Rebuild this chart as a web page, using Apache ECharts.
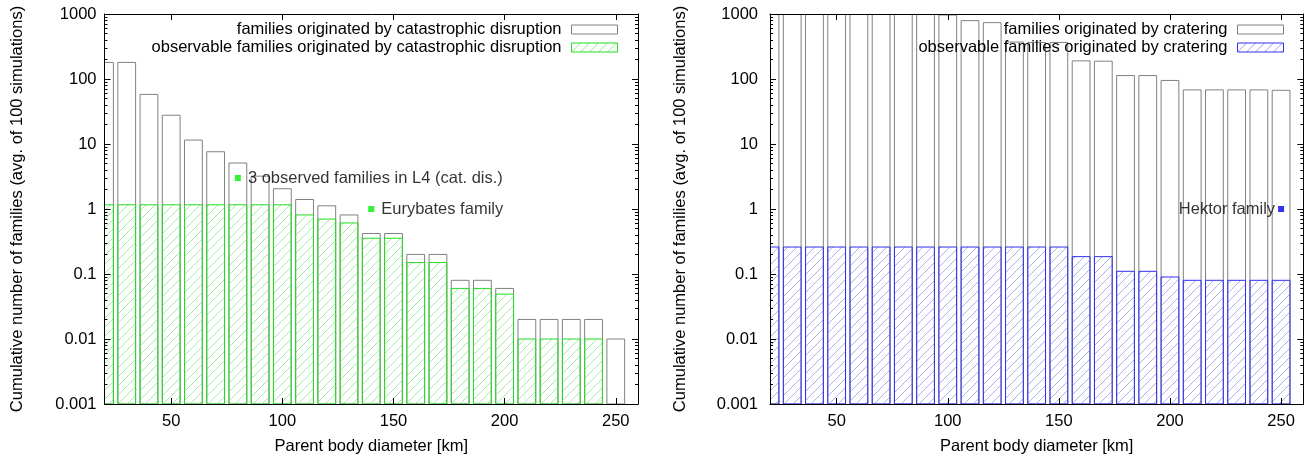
<!DOCTYPE html>
<html><head><meta charset="utf-8">
<script src="https://cdn.jsdelivr.net/npm/echarts@6/dist/echarts.min.js"></script>
<style>html,body{margin:0;padding:0;background:#fff}#c{width:1312px;height:460px}</style>
</head><body><div id="c"></div>
<script>
// ---------------- data ----------------
const DIAMETERS = [20,30,40,50,60,70,80,90,100,110,120,130,140,150,160,170,180,190,200,210,220,230,240,250];
// catastrophic disruption (left panel)
const CAT_ALL = [180,180,58,27.7,11.5,7.6,5.1,3.2,2.05,1.4,1.12,0.81,0.42,0.42,0.2,0.2,0.08,0.08,0.06,0.02,0.02,0.02,0.02,0.01];
const CAT_OBS = [1.16,1.16,1.16,1.16,1.16,1.16,1.16,1.16,1.16,0.81,0.70,0.61,0.355,0.355,0.15,0.15,0.06,0.06,0.049,0.01,0.01,0.01,0.01,null];
// cratering (right panel)
const CRAT_ALL = [4000,3500,2800,2300,1900,1600,1350,1150,965,790,736,370,365,365,190,188,113,113,95,68,68,68,68,67];
const CRAT_OBS = [0.26,0.26,0.26,0.26,0.26,0.26,0.26,0.26,0.26,0.26,0.26,0.26,0.26,0.26,0.185,0.185,0.11,0.11,0.09,0.08,0.08,0.08,0.08,0.08];
// observed families
const CAT_POINT_X = [80, 140];
const CAT_POINT_Y = [3, 1];
const CAT_POINT_NAMES = ['3 observed families in L4 (cat. dis.)', 'Eurybates family'];
const CRAT_POINT_X = [250];
const CRAT_POINT_Y = [1];
const CRAT_POINT_NAMES = ['Hektor family'];
// axes
const X_TICKS = [50,100,150,200,250];
const Y_MAJOR = [0.001,0.01,0.1,1,10,100,1000];
const Y_TICK_LABELS = ['0.001','0.01','0.1','1','10','100','1000'];
const Y_MINOR_MANTISSAS = [2,3,4,5,6,7,8,9];
const NAMES = {
  catAll: 'families originated by catastrophic disruption',
  catObs: 'observable families originated by catastrophic disruption',
  cratAll: 'families originated by cratering',
  cratObs: 'observable families originated by cratering'
};
const X_NAME = 'Parent body diameter [km]';
const Y_NAME = 'Cumulative number of families (avg. of 100 simulations)';

// ---------------- helpers ----------------
const X_MIN = 20, X_MAX = 260, Y_MIN = 0.001, Y_MAX = 1000;
const BAR_HALF = 4; // gnuplot box width 8 km
const HATCH_STEP = 9;
const FONT = "'Liberation Sans', Arial, Helvetica, sans-serif";
const Y_MINOR = [];
Y_MAJOR.slice(0, -1).forEach(d => Y_MINOR_MANTISSAS.forEach(m => Y_MINOR.push(+(d * m).toPrecision(3))));

function hatchPattern(color) {
  const s = HATCH_STEP, c = document.createElement('canvas');
  c.width = s; c.height = s;
  const g = c.getContext('2d');
  g.strokeStyle = color; g.lineWidth = 1;
  g.beginPath();
  g.moveTo(0, s); g.lineTo(s, 0);
  g.moveTo(-1, 1); g.lineTo(1, -1);
  g.moveTo(s - 1, s + 1); g.lineTo(s + 1, s - 1);
  g.stroke();
  return { image: c, repeat: 'repeat' };
}

function makeRenderBar(stroke, hatchColor) {
  return function (params, api) {
    const x = api.value(0), y = api.value(1);
    if (!(y > 0)) return;
    const cs = params.coordSys;
    const p0 = api.coord([x - BAR_HALF, y]);
    const p1 = api.coord([x + BAR_HALF, Y_MIN]);
    const r = echarts.graphic.clipRectByRect(
      { x: p0[0], y: p0[1], width: p1[0] - p0[0], height: p1[1] - p0[1] },
      { x: cs.x, y: cs.y, width: cs.width, height: cs.height });
    if (!r) return;
    const children = [];
    if (hatchColor) {
      const x0 = r.x, x1 = r.x + r.width, y0 = r.y, y1 = r.y + r.height;
      const cStart = Math.ceil((x0 + y0) / HATCH_STEP) * HATCH_STEP;
      for (let c = cStart; c <= x1 + y1; c += HATCH_STEP) {
        const ax = Math.max(x0, c - y1), bx = Math.min(x1, c - y0);
        if (bx <= ax) continue;
        children.push({ type: 'line', shape: { x1: ax, y1: c - ax, x2: bx, y2: c - bx },
          style: { stroke: hatchColor, lineWidth: 0.8 }, silent: true });
      }
    }
    children.push({ type: 'rect', shape: r, style: { fill: 'none', stroke: stroke, lineWidth: 1 } });
    return { type: 'group', children: children };
  };
}

const txt = { color: '#000', fontFamily: FONT, fontSize: 16.5 };

function xAxes(gridIndex) {
  const base = { type: 'value', gridIndex, min: X_MIN, max: X_MAX, splitLine: { show: false }, z: 10,
    axisLine: { show: true, onZero: false, lineStyle: { color: '#000', width: 1 } } };
  return [
    Object.assign({}, base, { position: 'bottom',
      axisTick: { inside: true, length: 6, customValues: X_TICKS, lineStyle: { color: '#000' } },
      axisLabel: Object.assign({ customValues: X_TICKS, margin: 9 }, txt),
      name: X_NAME, nameLocation: 'middle', nameGap: 34, nameTextStyle: txt }),
    Object.assign({}, base, { position: 'top',
      axisTick: { inside: true, length: 6, customValues: X_TICKS, lineStyle: { color: '#000' } },
      axisLabel: { show: false } })
  ];
}

function yAxes(gridIndex, labelMargin, nameGap) {
  const base = { type: 'log', logBase: 10, gridIndex, min: Y_MIN, max: Y_MAX, splitLine: { show: false }, z: 10 };
  const line = { show: true, lineStyle: { color: '#000', width: 1 } };
  return [
    Object.assign({}, base, { position: 'left', axisLine: line,
      axisTick: { inside: true, length: 6, customValues: Y_MAJOR, lineStyle: { color: '#000' } },
      axisLabel: Object.assign({ customValues: Y_MAJOR, margin: labelMargin,
        formatter: v => Y_TICK_LABELS[Math.round(Math.log10(v)) + 3] }, txt),
      name: Y_NAME, nameLocation: 'middle', nameGap: nameGap, nameTextStyle: txt }),
    Object.assign({}, base, { position: 'right', axisLine: line,
      axisTick: { inside: true, length: 6, customValues: Y_MAJOR, lineStyle: { color: '#000' } },
      axisLabel: { show: false } }),
    Object.assign({}, base, { position: 'left', axisLine: { show: false },
      axisTick: { inside: true, length: 3, customValues: Y_MINOR, lineStyle: { color: '#000' } },
      axisLabel: { show: false } }),
    Object.assign({}, base, { position: 'right', axisLine: { show: false },
      axisTick: { inside: true, length: 3, customValues: Y_MINOR, lineStyle: { color: '#000' } },
      axisLabel: { show: false } })
  ];
}

function barSeries(name, xi, yi, values, border, hatchColor) {
  return { type: 'custom', name, xAxisIndex: xi, yAxisIndex: yi, renderItem: makeRenderBar(border, hatchColor),
    encode: { x: 0, y: 1 }, clip: true,
    itemStyle: { color: hatchColor ? hatchPattern(hatchColor) : '#fff', borderColor: border, borderWidth: 1 },
    data: DIAMETERS.map((d, i) => [d, values[i]]) };
}

function pointSeries(xi, yi, xs, ys, names, color, pos, dist) {
  return { type: 'scatter', xAxisIndex: xi, yAxisIndex: yi, symbol: 'rect', symbolSize: 6,
    itemStyle: { color }, z: 5,
    label: Object.assign({ show: true, position: pos, distance: dist, formatter: p => p.name }, txt),
    data: xs.map((x, i) => ({ name: names[i], value: [x, ys[i]] })) };
}

const legendBase = { orient: 'vertical', align: 'right', icon: 'rect', itemWidth: 46, itemHeight: 9,
  itemGap: 1, padding: 0, selectedMode: false,
  itemStyle: { borderWidth: 1 },
  textStyle: Object.assign({ padding: [0, 5, 0, 0], lineHeight: 16 }, txt) };

const option = {
  animation: false,
  backgroundColor: '#fff',
  grid: [
    { left: 104.5, top: 14, right: 674, bottom: 54.3 },
    { left: 770, top: 14, right: 8.7, bottom: 54.3 }
  ],
  legend: [
    Object.assign({ data: [NAMES.catAll, NAMES.catObs], right: 694, top: 21 }, legendBase),
    Object.assign({ data: [NAMES.cratAll, NAMES.cratObs], right: 28, top: 21 }, legendBase)
  ],
  xAxis: xAxes(0).concat(xAxes(1)),
  yAxis: yAxes(0, 8, 79).concat(yAxes(1, 12, 81)),
  series: [
    barSeries(NAMES.catAll, 0, 0, CAT_ALL, '#808080', null),
    barSeries(NAMES.catObs, 0, 0, CAT_OBS, '#22dd22', '#88e888'),
    pointSeries(0, 0, CAT_POINT_X, CAT_POINT_Y, CAT_POINT_NAMES, '#00ee00', 'right', 7),
    barSeries(NAMES.cratAll, 2, 4, CRAT_ALL, '#808080', null),
    barSeries(NAMES.cratObs, 2, 4, CRAT_OBS, '#3030ee', '#9a9af0'),
    pointSeries(2, 4, CRAT_POINT_X, CRAT_POINT_Y, CRAT_POINT_NAMES, '#0000ee', 'left', 3)
  ]
};

const chart = echarts.init(document.getElementById('c'), null, { renderer: 'canvas' });
chart.setOption(option);
</script>
</body></html>
